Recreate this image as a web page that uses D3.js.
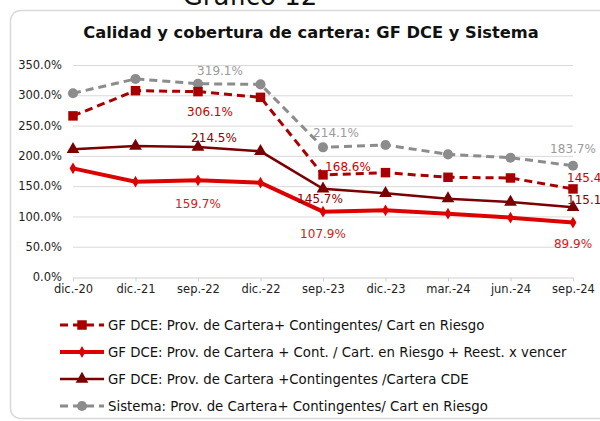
<!DOCTYPE html>
<html lang="es">
<head>
    <meta charset="UTF-8">
    <style>
        body { margin: 0; background: #fff; }
        svg text { font-family: "DejaVu Sans", Tahoma, sans-serif; }
        .tick text { font-size: 11.5px; fill: #222; }
        .grid line { stroke: #d9d9d9; }
        .legend text { font-size: 13.3px; fill: #111; }
        .lbl { font-size: 12px; }
    </style>
    <script src="https://d3js.org/d3.v7.min.js"></script>
    <title>Calidad y cobertura de cartera</title>
</head>
<body>
    <svg width="600" height="421"></svg>
    <script>

        // data
        var categories = ["dic.-20", "dic.-21", "sep.-22", "dic.-22", "sep.-23", "dic.-23", "mar.-24", "jun.-24", "sep.-24"];
        var yTicks = [0, 50, 100, 150, 200, 250, 300, 350];

        var provRiesgo  = [266, 307.6, 306.1, 296.6, 168.6, 172.3, 164.6, 163.5, 145.4];
        var provReest   = [179.4, 157.4, 159.7, 155.7, 107.9, 110, 104.5, 98, 89.9];
        var provCDE     = [210.8, 216.3, 214.5, 207.5, 145.7, 138.2, 129.3, 123.8, 115.1];
        var sistema     = [303.3, 327, 319.1, 318, 214.1, 218, 202.5, 197, 183.7];

        var seriesNames = [
            "GF DCE: Prov. de Cartera+ Contingentes/ Cart en Riesgo",
            "GF DCE: Prov. de Cartera + Cont. / Cart. en Riesgo + Reest. x vencer",
            "GF DCE: Prov. de Cartera +Contingentes /Cartera CDE",
            "Sistema: Prov. de Cartera+ Contingentes/ Cart en Riesgo"
        ];

        // labelled points: series index, category index, dx, dy
        var labels = [
            [3, 2, 22, -13], [0, 2, 12, 20], [2, 2, 16, -9], [1, 2, 0, 24],
            [3, 4, 13, -15], [0, 4, 25, -8], [2, 4, -3, 10], [1, 4, 0, 22],
            [3, 8, 0, -17], [0, 8, 0, -11], [2, 8, 0, -7], [1, 8, 0, 21]
        ];
        var labelLeft = { "0-8": true, "2-8": true };

        var svg = d3.select("svg");

        // frame
        svg.append("rect")
            .attr("x", 10.5).attr("y", 10.5)
            .attr("width", 620).attr("height", 408)
            .attr("rx", 10).attr("ry", 10)
            .attr("fill", "#fff").attr("stroke", "#d9d9d9").attr("stroke-width", 1.5);

        svg.append("text")
            .attr("x", 250).attr("y", 5)
            .attr("text-anchor", "middle")
            .style("font-size", "26px")
            .attr("fill", "#111")
            .text("Gráfico 12");

        svg.append("text")
            .attr("x", 311).attr("y", 38)
            .attr("text-anchor", "middle")
            .style("font-size", "16.3px")
            .style("font-weight", "bold")
            .attr("fill", "#111")
            .text("Calidad y cobertura de cartera: GF DCE y Sistema");

        var x = d3.scalePoint().domain(categories).range([73, 573]);
        var y = d3.scaleLinear().domain([0, 350]).range([277, 65]);

        // grid
        svg.append("g").attr("class", "grid")
            .selectAll("line").data(yTicks.slice(1)).enter().append("line")
            .attr("x1", 73).attr("x2", 573)
            .attr("y1", function(d) { return y(d) + 0.5; })
            .attr("y2", function(d) { return y(d) + 0.5; });

        var yAxis = svg.append("g")
            .attr("transform", "translate(73,0)")
            .call(d3.axisLeft(y).tickValues(yTicks).tickSize(0).tickPadding(11)
                .tickFormat(function(d) { return d.toFixed(1) + "%"; }));
        yAxis.select(".domain").remove();

        var xAxis = svg.append("g")
            .attr("transform", "translate(0," + (y(0) + 0.5) + ")")
            .call(d3.axisBottom(x).tickSize(4).tickSizeOuter(0).tickPadding(3));
        xAxis.select(".domain").attr("stroke", "#d0d0d0");
        xAxis.selectAll(".tick line").attr("stroke", "#d0d0d0");

        var styles = [
            { color: "#a80000", width: 3, dash: "8,5", marker: d3.symbolSquare, size: 90, label: "#cc0000" },
            { color: "#dd0000", width: 4, dash: null, marker: d3.symbolDiamond, size: 40, label: "#d42020" },
            { color: "#7a0000", width: 2.5, dash: null, marker: d3.symbolTriangle, size: 70, label: "#8b0000" },
            { color: "#8c8c8c", width: 3, dash: "8,5", marker: d3.symbolCircle, size: 80, label: "#9a9a9a" }
        ];
        var allSeries = [provRiesgo, provReest, provCDE, sistema];

        var line = d3.line()
            .x(function(d, i) { return x(categories[i]); })
            .y(function(d) { return y(d); });

        // draw sistema first, then others
        [3, 0, 2, 1].forEach(function(s) {
            var st = styles[s];
            svg.append("path")
                .datum(allSeries[s])
                .attr("d", line)
                .attr("fill", "none")
                .attr("stroke", st.color)
                .attr("stroke-width", st.width)
                .attr("stroke-dasharray", st.dash);
            svg.append("g").selectAll("path").data(allSeries[s]).enter().append("path")
                .attr("d", d3.symbol().type(st.marker).size(st.size))
                .attr("transform", function(d, i) { return "translate(" + x(categories[i]) + "," + y(d) + ")"; })
                .attr("fill", st.color);
        });

        // data labels
        labels.forEach(function(l) {
            var s = l[0], c = l[1], v = allSeries[s][c];
            var left = labelLeft[s + "-" + c];
            svg.append("text")
                .attr("class", "lbl")
                .attr("x", x(categories[c]) + (left ? -6 : l[2]))
                .attr("y", y(v) + l[3])
                .attr("dy", "0.35em")
                .attr("text-anchor", left ? "start" : "middle")
                .attr("fill", styles[s].label)
                .text(v.toFixed(1) + "%");
        });

        // legend
        var legend = svg.append("g").attr("class", "legend");
        seriesNames.forEach(function(name, i) {
            var st = styles[i];
            var ly = 325 + i * 27;
            var g = legend.append("g").attr("transform", "translate(0," + ly + ")");
            g.append("line")
                .attr("x1", 60).attr("x2", 104)
                .attr("stroke", st.color)
                .attr("stroke-width", st.width)
                .attr("stroke-dasharray", st.dash);
            g.append("path")
                .attr("d", d3.symbol().type(st.marker).size(st.size))
                .attr("transform", "translate(82,0)")
                .attr("fill", st.color);
            g.append("text")
                .attr("x", 108).attr("dy", "0.35em")
                .text(name);
        });

    </script>
</body>
</html>
